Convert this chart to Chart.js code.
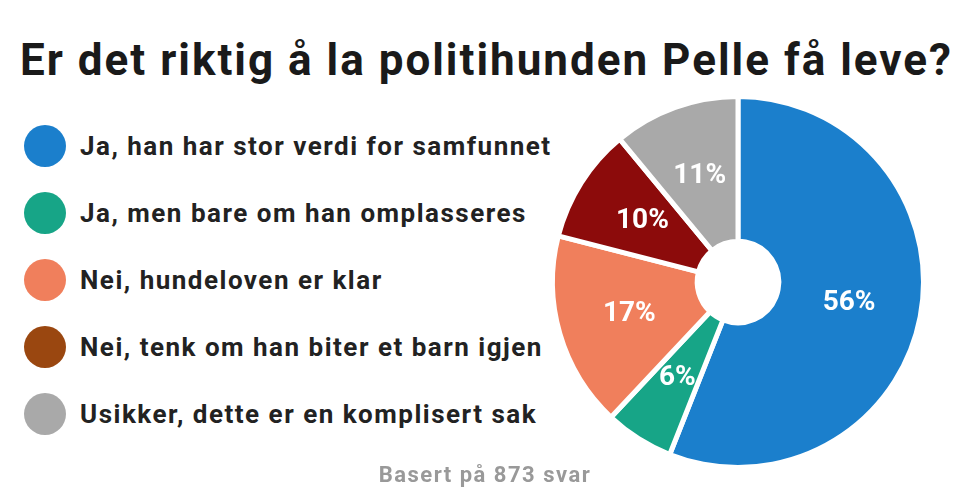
<!DOCTYPE html>
<html lang="no">
<head>
<meta charset="UTF-8">
<title>Pelle</title>
<script src="https://cdn.jsdelivr.net/npm/chart.js@4.4.0/dist/chart.umd.min.js"></script>
<style>
  body { margin: 0; width: 960px; height: 496px; background: #fff; font-family: Roboto, "Noto Sans", sans-serif; position: relative; overflow: hidden; }
  h1 { position: absolute; left: 20px; top: 34px; margin: 0; font-size: 44px; font-weight: 700; color: #1a1a1a; letter-spacing: 2px; white-space: nowrap; }
  #legend { position: absolute; left: 24px; top: 112px; margin: 0; padding: 0; list-style: none; }
  #legend li { height: 67px; display: flex; align-items: center; font-size: 26px; font-weight: 700; color: #222; letter-spacing: 1.5px; white-space: nowrap; }
  #legend span.dot { width: 42px; height: 42px; border-radius: 50%; margin-right: 14px; flex: none; }
  #wrap { position: absolute; left: 538px; top: 82px; width: 400px; height: 400px; }
  #foot { position: absolute; left: 0; width: 970px; top: 462px; text-align: center; font-size: 22px; font-weight: 700; color: #999; letter-spacing: 1.5px; }
</style>
</head>
<body>
<h1>Er det riktig å la politihunden Pelle få leve?</h1>
<ul id="legend"></ul>
<div id="wrap"><canvas id="pie"></canvas></div>
<div id="foot">Basert på 873 svar</div>
<script>
// data
const categories = ['Ja, han har stor verdi for samfunnet', 'Ja, men bare om han omplasseres', 'Nei, hundeloven er klar', 'Nei, tenk om han biter et barn igjen', 'Usikker, dette er en komplisert sak'];
const values = [56, 6, 17, 10, 11];
const sliceColors = ['#1b7fcc', '#17a587', '#f07f5c', '#8c0b0b', '#a9a9a9'];
const legendColors = ['#1b7fcc', '#17a587', '#f07f5c', '#9a4710', '#a9a9a9'];

var ul = document.getElementById('legend');
categories.forEach(function(c, i) {
    var li = document.createElement('li');
    li.innerHTML = '<span class="dot" style="background:' + legendColors[i] + '"></span>' + c;
    ul.appendChild(li);
});

// tall i skivene
const pctLabels = {
    id: 'pctLabels',
    afterDatasetsDraw: function(chart) {
        var c = chart.ctx;
        c.save();
        c.fillStyle = '#fff';
        c.font = 'bold 28px Roboto, sans-serif';
        c.textAlign = 'center';
        c.textBaseline = 'middle';
        chart.getDatasetMeta(0).data.forEach(function(arc, i) {
            var p = arc.tooltipPosition();
            c.fillText(values[i] + '%', p.x, p.y);
        });
        c.restore();
    }
};

new Chart(document.getElementById('pie'), {
    type: 'doughnut',
    data: {
        labels: categories,
        datasets: [{ data: values, backgroundColor: sliceColors, borderColor: '#fff', borderWidth: 5 }]
    },
    options: {
        responsive: true,
        maintainAspectRatio: false,
        animation: false,
        cutout: '22%',
        layout: { padding: 12 },
        plugins: { legend: { display: false }, tooltip: { enabled: false } }
    },
    plugins: [pctLabels]
});
</script>
</body>
</html>
